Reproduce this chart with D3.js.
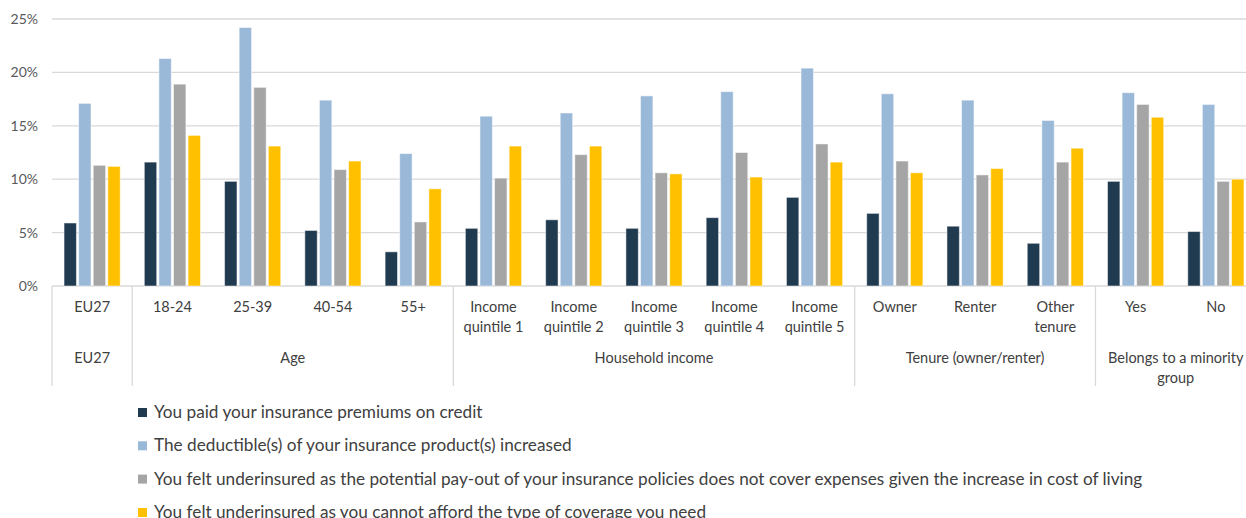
<!DOCTYPE html>
<html><head><meta charset="utf-8">
<script src="https://cdn.jsdelivr.net/npm/d3@7"></script>
<style>body{margin:0;background:#fff;overflow:hidden}svg{display:block}text{font-family:Lato,"Open Sans",sans-serif;fill:#404040}</style>
</head><body><svg id="c" width="1246" height="518"></svg>
<script>
const categories = ["EU27","18-24","25-39","40-54","55+","Income\nquintile 1","Income\nquintile 2","Income\nquintile 3","Income\nquintile 4","Income\nquintile 5","Owner","Renter","Other\ntenure","Yes","No"];
const groupNames = ["EU27","Age","Household income","Tenure (owner/renter)","Belongs to a minority\ngroup"];
const groupSizes = [1,4,5,3,2];
const seriesNames = ["You paid your insurance premiums on credit","The deductible(s) of your insurance product(s) increased","You felt underinsured as the potential pay-out of your insurance policies does not cover expenses given the increase in cost of living","You felt underinsured as you cannot afford the type of coverage you need"];
const seriesColors = ["#203A50","#9AB8D8","#A5A5A5","#FFC000"];
const premiumsCredit = [5.9,11.6,9.8,5.2,3.2,5.4,6.2,5.4,6.4,8.3,6.8,5.6,4.0,9.8,5.1];
const deductibleIncreased = [17.1,21.3,24.2,17.4,12.4,15.9,16.2,17.8,18.2,20.4,18.0,17.4,15.5,18.1,17.0];
const underinsuredPayout = [11.3,18.9,18.6,10.9,6.0,10.1,12.3,10.6,12.5,13.3,11.7,10.4,11.6,17.0,9.8];
const underinsuredAfford = [11.2,14.1,13.1,11.7,9.1,13.1,13.1,10.5,10.2,11.6,10.6,11.0,12.9,15.8,10.0];
const yTicks = [0,5,10,15,20,25];

(function(){
const series = [premiumsCredit, deductibleIncreased, underinsuredPayout, underinsuredAfford];
const svg = d3.select("#c");
const pLeft = 52, pRight = 1256, pTop = 19, base = 286;
const y = d3.scaleLinear().domain([0,25]).range([base, pTop]);
const x0 = d3.scaleBand().domain(d3.range(categories.length)).range([pLeft, pRight]).padding(0);
const bw = x0.bandwidth();
const x1 = d3.scaleBand().domain(d3.range(4)).range([bw*0.15, bw*0.85]).paddingInner(0.15).paddingOuter(0);

svg.append("g").selectAll("line").data(yTicks).join("line")
  .attr("x1", pLeft).attr("x2", pRight).attr("y1", d=>y(d)).attr("y2", d=>y(d))
  .attr("stroke", "#d9d9d9").attr("stroke-width", 1.3);
const yAxis = d3.axisLeft(y).tickValues(yTicks).tickFormat(d=>d+"%").tickSize(0).tickPadding(0);
const ya = svg.append("g").attr("transform", `translate(${pLeft-14},0)`).call(yAxis);
ya.select(".domain").remove();
ya.selectAll("text").attr("font-size", 14).style("font-family", "Lato").style("fill","#595959");

series.forEach((vals, si) => {
  svg.append("g").selectAll("rect").data(vals).join("rect")
    .attr("x", (d,i)=>x0(i)+x1(si)).attr("width", x1.bandwidth())
    .attr("y", d=>y(d)).attr("height", d=>base-y(d))
    .attr("fill", seriesColors[si]).attr("stroke", "#ffffff").attr("stroke-opacity",0.5).attr("stroke-width", 1);
});

categories.forEach((c, i) => {
  const t = svg.append("text").attr("text-anchor", "middle").attr("font-size", 14.5).attr("y", 312);
  c.split("\n").forEach((l, k) => t.append("tspan").attr("x", x0(i)+bw/2).attr("dy", k?20:0).text(l));
});
let acc = 0;
const bounds = [0];
groupSizes.forEach(s => { acc += s; bounds.push(acc); });
const bx = d => d < categories.length ? x0(d) : pRight;
svg.append("g").selectAll("line").data(bounds).join("line")
  .attr("x1", bx).attr("x2", bx)
  .attr("y1", base).attr("y2", 386).attr("stroke", "#d9d9d9").attr("stroke-width", 1.3);
groupNames.forEach((g, gi) => {
  const a = bx(bounds[gi]), b = bx(bounds[gi+1]);
  const t = svg.append("text").attr("text-anchor", "middle").attr("font-size", 14.5).attr("y", 362.5);
  g.split("\n").forEach((l,k)=> t.append("tspan").attr("x", (a+b)/2).attr("dy", k?20:0).text(l));
});

const ly = [418, 451.3, 484.6, 518];
seriesNames.forEach((n, i) => {
  svg.append("rect").attr("x", 138).attr("y", ly[i]-10).attr("width", 9).attr("height", 9).attr("fill", seriesColors[i]);
  svg.append("text").attr("x", 154).attr("y", ly[i]).attr("font-size", 17.2).text(n);
});
})();
</script></body></html>
